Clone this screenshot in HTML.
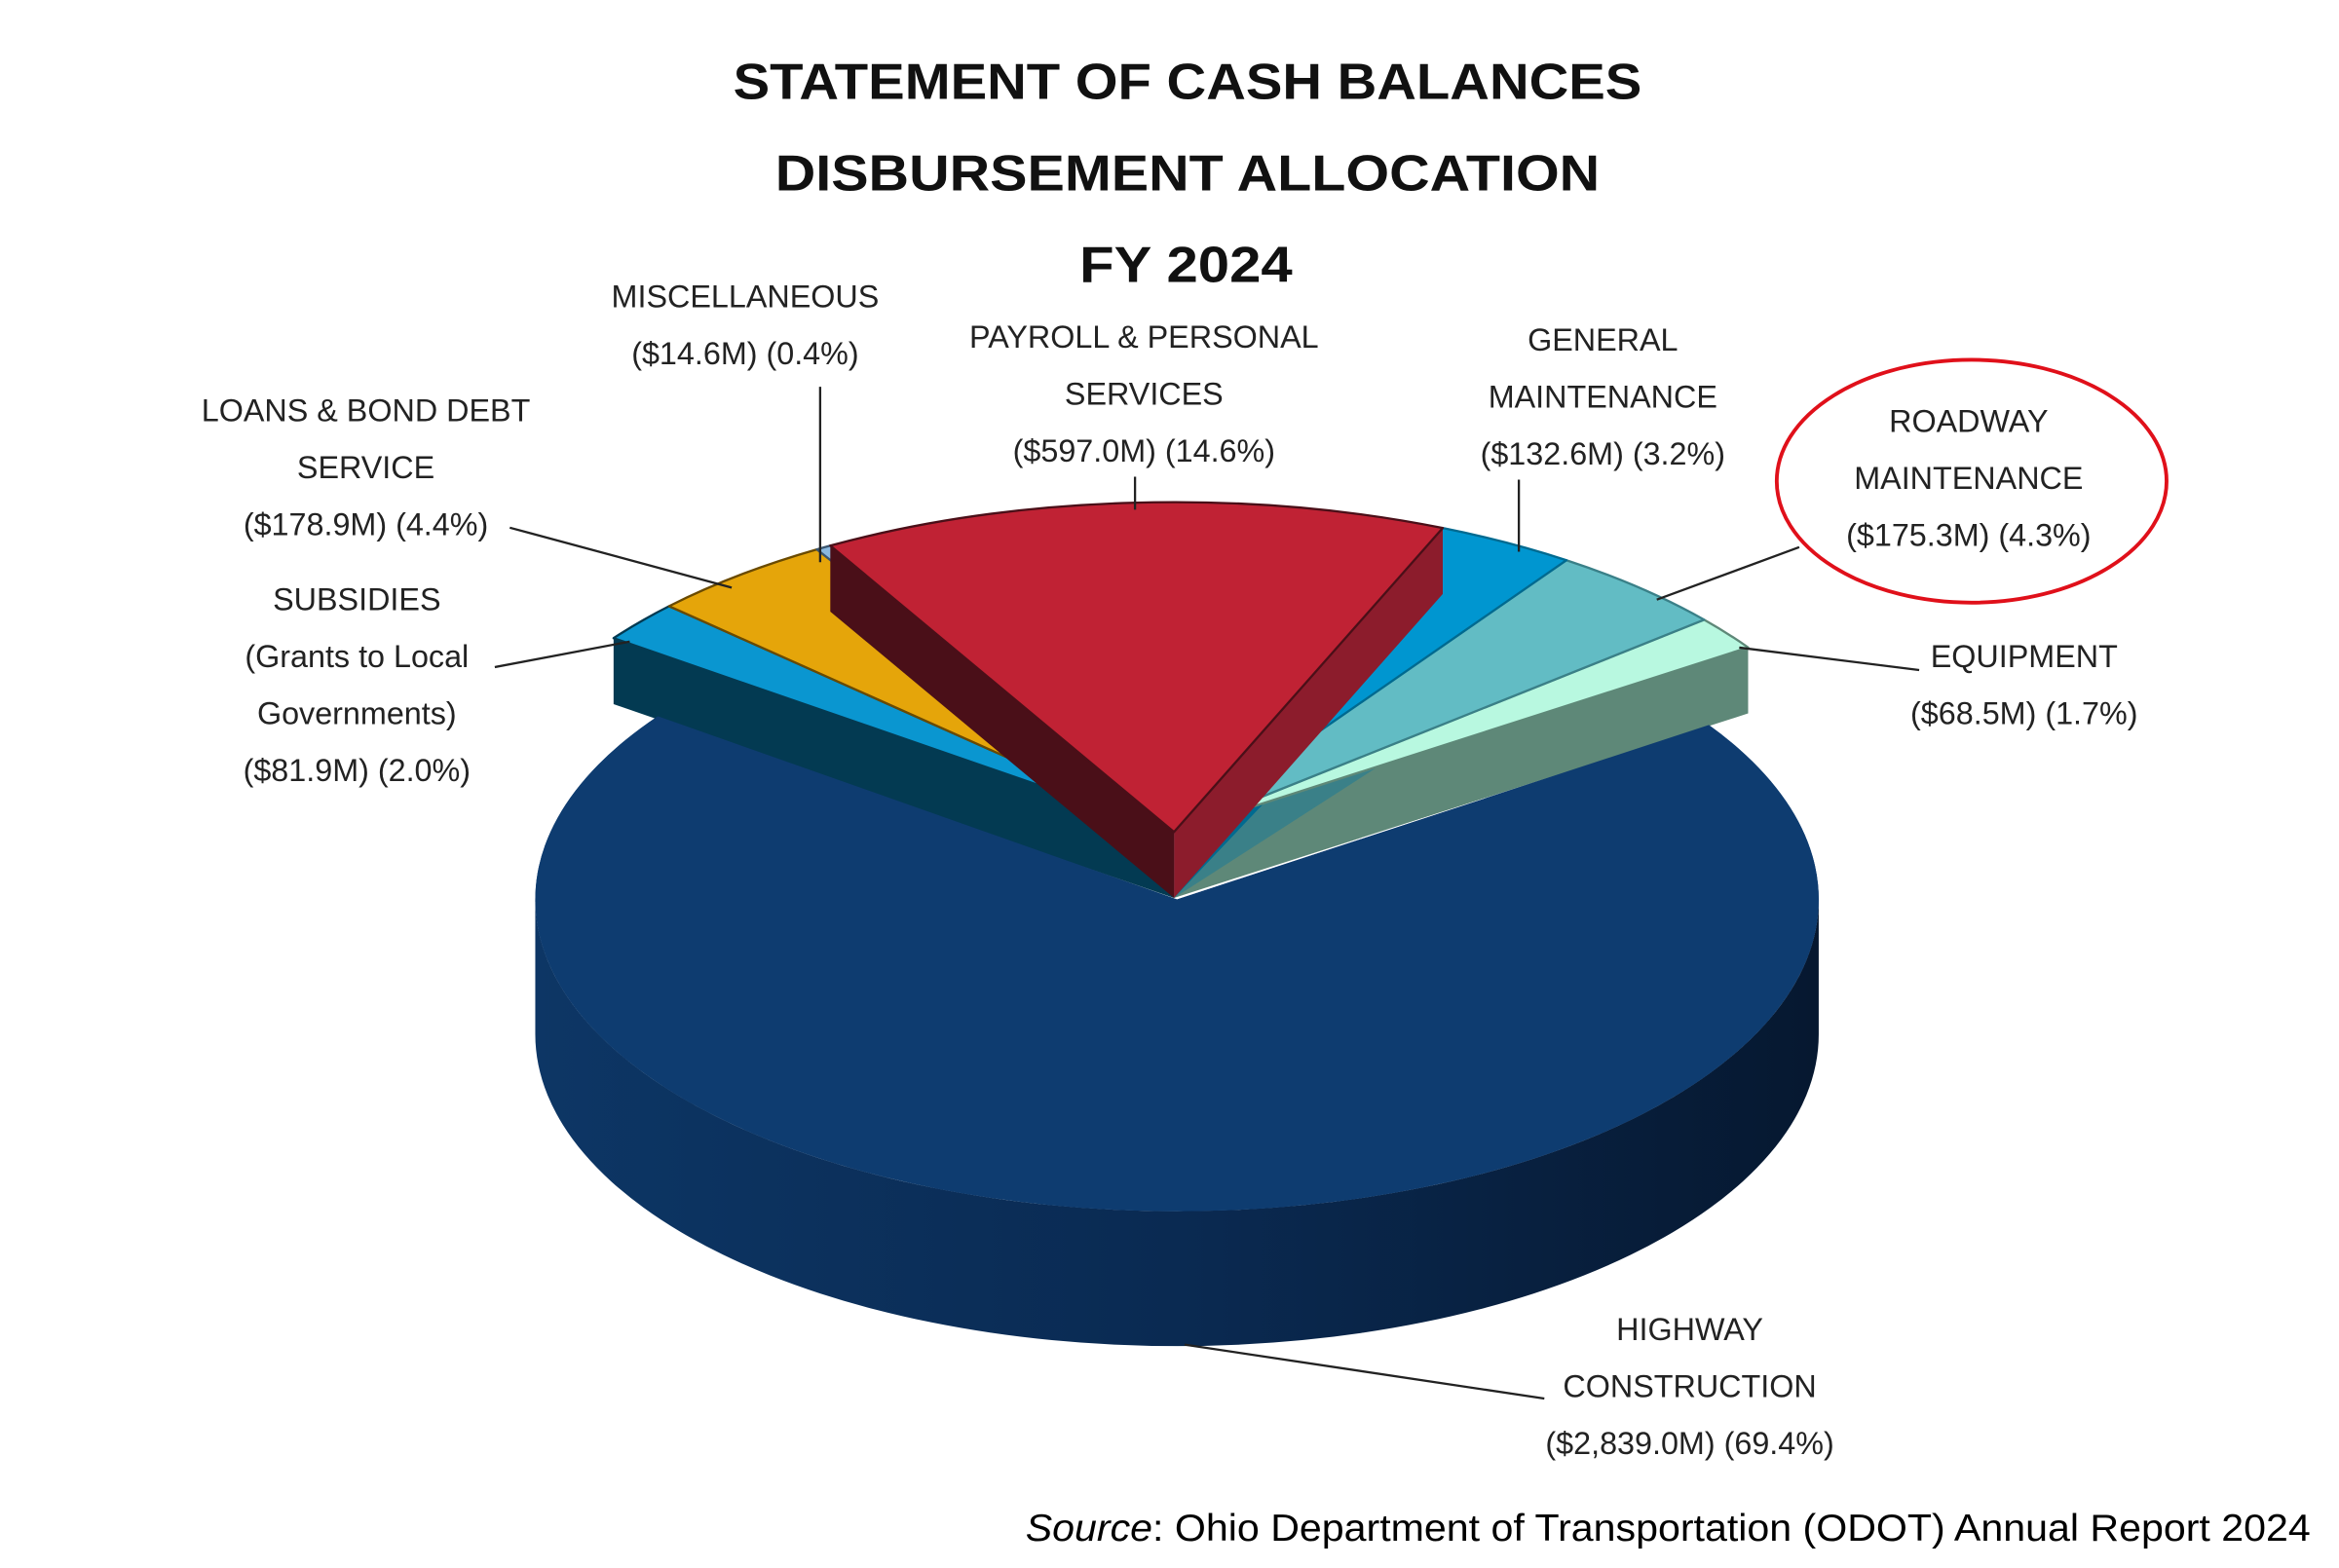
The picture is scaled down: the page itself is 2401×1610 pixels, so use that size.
<!DOCTYPE html>
<html><head><meta charset="utf-8"><style>
html,body{margin:0;padding:0;background:#fff;}
svg{display:block;}
text{font-family:"Liberation Sans",sans-serif;fill:#222;}
</style></head><body>
<svg id="chart" width="2401" height="1610" viewBox="0 0 1560 1046" xmlns="http://www.w3.org/2000/svg">
<defs>
<linearGradient id="hwWall" x1="0" x2="1" y1="0" y2="0">
<stop offset="0" stop-color="#0d3665"/><stop offset="0.5" stop-color="#0a2a52"/><stop offset="1" stop-color="#061830"/>
</linearGradient>
</defs>
<g font-weight="bold" text-anchor="middle">
<text x="792" y="66" font-size="34" textLength="606" lengthAdjust="spacingAndGlyphs" style="fill:#111">STATEMENT OF CASH BALANCES</text>
<text x="792" y="127" font-size="34" textLength="550" lengthAdjust="spacingAndGlyphs" style="fill:#111">DISBURSEMENT ALLOCATION</text>
<text x="791" y="188" font-size="34" textLength="142" lengthAdjust="spacingAndGlyphs" style="fill:#111">FY 2024</text>
</g>
<g id="pie"></g>
<g id="leaders" stroke="#222" stroke-width="1.5" fill="none">
<polyline points="547,258 547,375"/>
<polyline points="757,318 757,340"/>
<polyline points="1013,320 1013,368"/>
<polyline points="1200,365 1105,400"/>
<polyline points="340,352 355,356 488,392"/>
<polyline points="330,445 420,428"/>
<polyline points="1280,447 1160,432"/>
<polyline points="1030,933 790,897"/>
</g>
<g id="labels" text-anchor="middle" font-size="21"></g>
<ellipse cx="1315" cy="321" rx="130" ry="81" fill="none" stroke="#e0101a" stroke-width="2.5"/>
<text x="684" y="1028" font-size="25" textLength="857" lengthAdjust="spacingAndGlyphs" style="fill:#000"><tspan font-style="italic">Source</tspan>: Ohio Department of Transportation (ODOT) Annual Report 2024</text>
</svg>
<script>
const categories = ["Subsidies","Loans & Bond Debt Service","Miscellaneous","Payroll & Personal Services","General Maintenance","Roadway Maintenance","Equipment","Highway Construction"];
const values = [81.9,178.9,14.6,597.0,132.6,175.3,68.5,2839.0];
const topColors = ["#0a96d0","#e5a50a","#8ab8e0","#c02234","#0096d0","#62bcc4","#b8f8e0","#0e3c70"];
const wallColors = ["#033a52","#6a4a00","#3a5670","#4a0f18","#006a90","#3a8088","#5e8878","#0a2a52"];
const labelLines = [
 ["SUBSIDIES","(Grants to Local","Governments)","($81.9M) (2.0%)"],
 ["LOANS & BOND DEBT","SERVICE","($178.9M) (4.4%)"],
 ["MISCELLANEOUS","($14.6M) (0.4%)"],
 ["PAYROLL & PERSONAL","SERVICES","($597.0M) (14.6%)"],
 ["GENERAL","MAINTENANCE","($132.6M) (3.2%)"],
 ["ROADWAY","MAINTENANCE","($175.3M) (4.3%)"],
 ["EQUIPMENT","($68.5M) (1.7%)"],
 ["HIGHWAY","CONSTRUCTION","($2,839.0M) (69.4%)"]
];
const labelAnchor = [[238,407],[244,281],[497,205],[763,232],[1069,234],[1313,288],[1350,445],[1127,894]];

const NS="http://www.w3.org/2000/svg";
const pie=document.getElementById('pie');
const total=values.reduce((a,b)=>a+b,0);
const startAngle=216;
const S={cx:783,cy:555,rx:462,ry:220,d:44};
const H={cx:785,cy:600,rx:428,ry:208,d:90};
function pt(g,a,dy){const r=a*Math.PI/180;return [g.cx+g.rx*Math.cos(r),g.cy+g.ry*Math.sin(r)+(dy||0)];}
function f(p){return p[0].toFixed(2)+","+p[1].toFixed(2);}
function mk(d,fill,name){const p=document.createElementNS(NS,'path');p.setAttribute('d',d);p.setAttribute('fill',fill);


pie.appendChild(p);return p;}
const angles=[];let acc=startAngle;
values.forEach(v=>{const sp=v/total*360;angles.push([acc,acc+sp]);acc+=sp;});
const hi=values.length-1;
function drawHighwayTop(name){
 const [a0,a1]=angles[hi];
 const p0=pt(H,a0),p1=pt(H,a1);
 const large=(a1-a0)>180?1:0;
 mk(`M${H.cx},${H.cy} L${f(p0)} A${H.rx},${H.ry} 0 ${large} 1 ${f(p1)} Z`,topColors[hi],name);
}
{const L=pt(H,180),R=pt(H,0);
 mk(`M${f(R)} A${H.rx},${H.ry} 0 0 1 ${f(L)} L${f([L[0],L[1]+H.d])} A${H.rx},${H.ry} 0 0 0 ${f([R[0],R[1]+H.d])} Z`,"url(#hwWall)","highway-side-wall");
 drawHighwayTop("slice-highway-construction");
}
function drawWall(ang,color,name){
 const c=[S.cx,S.cy],cb=[S.cx,S.cy+S.d];
 const p=pt(S,ang);
 mk(`M${f(c)} L${f(p)} L${f([p[0],p[1]+S.d])} L${f(cb)} Z`,color,name);
}
function drawTop(i){
 const [a0,a1]=angles[i];
 const p0=pt(S,a0),p1=pt(S,a1);
 const large=(a1-a0)>180?1:0;
 const slug=categories[i].toLowerCase().replace(/[^a-z]+/g,'-');
 const el=mk(`M${S.cx},${S.cy} L${f(p0)} A${S.rx},${S.ry} 0 ${large} 1 ${f(p1)} Z`,topColors[i],"slice-"+slug);
 el.setAttribute('stroke',wallColors[i]);el.setAttribute('stroke-width','1.5');el.setAttribute('stroke-linejoin','round');
}
function drawPayroll(){
 drawWall(angles[3][0],wallColors[3],"wall-payroll-left");
 drawWall(angles[3][1],"#8c1c2c","wall-payroll-right");
 drawTop(3);
}
drawWall(angles[0][0],wallColors[0],"wall-subsidies");
drawWall(angles[6][1],wallColors[6],"wall-equipment");
drawWall(angles[5][0]+2,wallColors[5],"wall-roadway");
drawWall(angles[4][0]+1.5,wallColors[4],"wall-general");
drawHighwayTop("slice-highway-construction-front");
drawTop(0);drawTop(1);drawTop(2);drawTop(6);drawTop(5);drawTop(4);
drawPayroll();
const lg=document.getElementById('labels');
labelLines.forEach((lines,i)=>{
 const t=document.createElementNS(NS,'text');
 
 
 lines.forEach((ln,j)=>{const s=document.createElementNS(NS,'tspan');s.setAttribute('x',labelAnchor[i][0]);s.setAttribute('y',labelAnchor[i][1]+j*38);s.textContent=ln;t.appendChild(s);});
 lg.appendChild(t);
});
</script>
</body></html>
